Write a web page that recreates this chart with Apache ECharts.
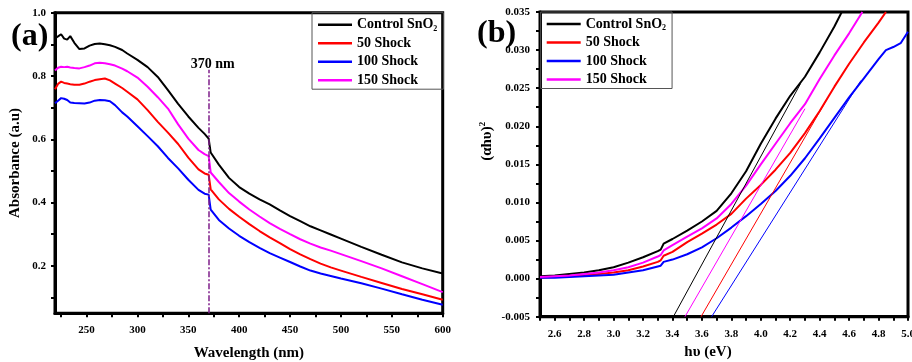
<!DOCTYPE html>
<html>
<head>
<meta charset="utf-8">
<script src="https://cdn.jsdelivr.net/npm/echarts@6/dist/echarts.min.js"></script>
<style>
html, body { margin: 0; padding: 0; background: #fff; }
#main { width: 912px; height: 362px; }
</style>
</head>
<body>
<div id="main"></div>
<script>
// panel (a): absorbance spectra
var wavelength = [219, 222, 225, 228, 231, 234, 238, 243, 248, 253, 258, 263, 268, 273, 278, 285, 290,
    300, 310, 320, 330, 340, 350, 360, 366, 370, 372, 380, 390, 400, 410, 420, 430, 440, 450, 460,
    470, 480, 490, 500, 520, 540, 560, 580, 600];
var absControl = [0.919, 0.925, 0.932, 0.918, 0.915, 0.926, 0.905, 0.885, 0.887, 0.896, 0.901, 0.903, 0.900, 0.897, 0.892, 0.882, 0.871,
    0.851, 0.828, 0.797, 0.755, 0.712, 0.672, 0.636, 0.617, 0.602, 0.558, 0.520, 0.478, 0.449, 0.428, 0.410, 0.394, 0.375, 0.357, 0.341,
    0.325, 0.312, 0.299, 0.286, 0.260, 0.235, 0.211, 0.192, 0.176];
var abs50 = [0.758, 0.775, 0.782, 0.778, 0.776, 0.774, 0.772, 0.772, 0.776, 0.782, 0.787, 0.790, 0.792, 0.786, 0.776, 0.762, 0.750,
    0.726, 0.692, 0.655, 0.621, 0.585, 0.542, 0.505, 0.492, 0.488, 0.442, 0.410, 0.380, 0.355, 0.332, 0.310, 0.290, 0.272, 0.253, 0.236,
    0.221, 0.207, 0.195, 0.185, 0.165, 0.146, 0.127, 0.110, 0.093];
var abs100 = [0.714, 0.722, 0.730, 0.728, 0.724, 0.716, 0.715, 0.714, 0.713, 0.716, 0.722, 0.724, 0.723, 0.720, 0.708, 0.685, 0.672,
    0.641, 0.610, 0.578, 0.541, 0.508, 0.472, 0.440, 0.428, 0.425, 0.378, 0.345, 0.318, 0.295, 0.275, 0.257, 0.240, 0.226, 0.212, 0.198,
    0.185, 0.176, 0.168, 0.160, 0.145, 0.128, 0.110, 0.093, 0.077];
var abs150 = [0.817, 0.826, 0.829, 0.828, 0.829, 0.827, 0.825, 0.824, 0.828, 0.833, 0.840, 0.842, 0.840, 0.837, 0.833, 0.823, 0.815,
    0.795, 0.766, 0.733, 0.697, 0.647, 0.602, 0.566, 0.553, 0.547, 0.495, 0.465, 0.430, 0.403, 0.378, 0.356, 0.335, 0.317, 0.300, 0.284,
    0.270, 0.258, 0.248, 0.237, 0.215, 0.192, 0.167, 0.142, 0.117];
var edgeWavelength = 370;

// panel (b): Tauc plot
var evControl = [2.5, 2.6, 2.7, 2.8, 2.9, 3.0, 3.1, 3.2, 3.3, 3.32, 3.34, 3.4, 3.5, 3.6, 3.7, 3.8, 3.9, 4.0, 4.1, 4.2, 4.3, 4.4, 4.5, 4.55];
var taucControl = [0.0003, 0.0004, 0.0006, 0.0008, 0.0011, 0.0015, 0.0021, 0.0028, 0.0036, 0.0038, 0.0046, 0.0052, 0.0063, 0.0075,
    0.0089, 0.0112, 0.0141, 0.0177, 0.0210, 0.0240, 0.0265, 0.0297, 0.0331, 0.0350];
var ev150 = [2.5, 2.6, 2.7, 2.8, 2.9, 3.0, 3.1, 3.2, 3.3, 3.32, 3.34, 3.4, 3.5, 3.6, 3.7, 3.8, 3.9, 4.0, 4.1, 4.2, 4.3, 4.4, 4.5, 4.6, 4.69];
var tauc150 = [0.0002, 0.0003, 0.0004, 0.0006, 0.0008, 0.0011, 0.0015, 0.0021, 0.0029, 0.0031, 0.0037, 0.0044, 0.0055, 0.0066,
    0.0079, 0.0098, 0.0122, 0.0150, 0.0177, 0.0204, 0.0229, 0.0262, 0.0293, 0.0322, 0.0350];
var ev50 = [2.5, 2.6, 2.7, 2.8, 2.9, 3.0, 3.1, 3.2, 3.3, 3.32, 3.34, 3.4, 3.5, 3.6, 3.7, 3.8, 3.9, 4.0, 4.1, 4.2, 4.3, 4.4, 4.5, 4.6, 4.7, 4.8, 4.85];
var tauc50 = [0.0001, 0.0002, 0.0003, 0.0004, 0.0006, 0.0008, 0.0011, 0.0016, 0.0022, 0.0024, 0.0030, 0.0035, 0.0048, 0.0059,
    0.0071, 0.0085, 0.0105, 0.0123, 0.0143, 0.0165, 0.0191, 0.0220, 0.0252, 0.0282, 0.0310, 0.0336, 0.0350];
var ev100 = [2.5, 2.6, 2.7, 2.8, 2.9, 3.0, 3.1, 3.2, 3.3, 3.32, 3.34, 3.4, 3.5, 3.6, 3.7, 3.8, 3.9, 4.0, 4.1, 4.2, 4.3, 4.4, 4.5, 4.6, 4.7, 4.8, 4.85, 4.9, 4.95, 5.0];
var tauc100 = [0.0001, 0.0001, 0.0002, 0.0003, 0.0004, 0.0005, 0.0008, 0.0011, 0.0016, 0.0017, 0.0022, 0.0025, 0.0032, 0.0041,
    0.0053, 0.0067, 0.0082, 0.0098, 0.0115, 0.0135, 0.0158, 0.0184, 0.0211, 0.0238, 0.0263, 0.0288, 0.0300, 0.0304, 0.0309, 0.0324];
// linear fits (start and end points)
var fitControl = [[3.406, -0.005], [4.27, 0.0256]];
var fit150 = [[3.485, -0.005], [4.30, 0.0223]];
var fit50 = [[3.594, -0.005], [4.448, 0.0235]];
var fit100 = [[3.666, -0.005], [4.68, 0.026]];

// tick labels
var wlTicks = [225, 250, 275, 300, 325, 350, 375, 400, 425, 450, 475, 500, 525, 550, 575, 600];
var wlLabels = [250, 300, 350, 400, 450, 500, 550, 600];
var absTicks = [0.1, 0.2, 0.3, 0.4, 0.5, 0.6, 0.7, 0.8, 0.9, 1.0];
var absLabels = [0.2, 0.4, 0.6, 0.8, 1.0];
var evTicks = [2.5, 2.6, 2.7, 2.8, 2.9, 3.0, 3.1, 3.2, 3.3, 3.4, 3.5, 3.6, 3.7, 3.8, 3.9, 4.0, 4.1, 4.2, 4.3, 4.4, 4.5, 4.6, 4.7, 4.8, 4.9, 5.0];
var evLabels = [2.6, 2.8, 3.0, 3.2, 3.4, 3.6, 3.8, 4.0, 4.2, 4.4, 4.6, 4.8, 5.0];
var taucTicks = [-0.005, -0.0025, 0, 0.0025, 0.005, 0.0075, 0.01, 0.0125, 0.015, 0.0175, 0.02, 0.0225, 0.025, 0.0275, 0.03, 0.0325, 0.035];
var taucLabels = [-0.005, 0, 0.005, 0.01, 0.015, 0.02, 0.025, 0.03, 0.035];

var names = ['Control SnO2', '50 Shock', '100 Shock', '150 Shock'];
var colors = ['#000000', '#ff0000', '#0000ff', '#ff00ff'];
var serif = 'Liberation Serif';

function pairs(xs, ys) {
    return xs.map(function (x, i) { return [x, ys[i]]; });
}

function curve(name, color, data, idx) {
    return {
        name: name, type: 'line', xAxisIndex: idx, yAxisIndex: idx,
        data: data, symbol: 'none', showSymbol: false,
        lineStyle: { color: color, width: 2 }, itemStyle: { color: color }
    };
}

function fitLine(color, data) {
    return {
        name: 'fit', type: 'line', xAxisIndex: 1, yAxisIndex: 1,
        data: data, symbol: 'none', showSymbol: false,
        lineStyle: { color: color, width: 1 }, itemStyle: { color: color }
    };
}

function valueAxis(idx, min, max, ticks, labels, fmt, margin) {
    return {
        type: 'value', gridIndex: idx, min: min, max: max,
        axisLine: { show: true, onZero: false, lineStyle: { color: '#000', width: 3 } },
        axisTick: { show: true, inside: false, length: 4, customValues: ticks, lineStyle: { color: '#000', width: 2 } },
        axisLabel: { customValues: labels, formatter: fmt, margin: margin,
            fontFamily: serif, fontWeight: 'bold', fontSize: 11, color: '#000' },
        splitLine: { show: false }
    };
}

var legendText = {
    fontFamily: serif, fontWeight: 'bold', fontSize: 14, color: '#000', lineHeight: 16,
    rich: {
        t: { fontFamily: serif, fontWeight: 'bold', fontSize: 14, color: '#000', lineHeight: 16 },
        s: { fontFamily: serif, fontWeight: 'bold', fontSize: 8, color: '#000', lineHeight: 8, verticalAlign: 'bottom' }
    }
};
function legendFmt(name) {
    return name === 'Control SnO2' ? '{t|Control SnO}{s|2}' : name;
}
function legend(left, top) {
    return {
        data: names, orient: 'vertical', left: left, top: top,
        padding: [4, 6, 1, 6], itemGap: 2.5, itemWidth: 34, itemHeight: 2.5,
        icon: 'rect', borderColor: '#555', borderWidth: 1,
        textStyle: legendText, formatter: legendFmt, selectedMode: false
    };
}

var axisName = { fontFamily: serif, fontWeight: 'bold', fontSize: 15, color: '#000' };

var chart = echarts.init(document.getElementById('main'), null, { renderer: 'canvas' });
chart.setOption({
    animation: false,
    backgroundColor: '#fff',
    grid: [
        { left: 55, top: 12.7, width: 387.7, height: 300.6, show: true, borderColor: '#000', borderWidth: 3,
            containLabel: false, outerBoundsMode: 'none' },
        { left: 540, top: 12, width: 368, height: 304.7, show: true, borderColor: '#000', borderWidth: 3,
            containLabel: false, outerBoundsMode: 'none' }
    ],
    legend: [legend(312, 12.7), legend(540.7, 12)],
    xAxis: [
        Object.assign(valueAxis(0, 219, 600, wlTicks, wlLabels, function (v) { return String(v); }, 11), {
            name: 'Wavelength (nm)', nameLocation: 'middle', nameGap: 32, nameTextStyle: axisName
        }),
        Object.assign(valueAxis(1, 2.5, 5.0, evTicks, evLabels, function (v) { return v.toFixed(1); }, 12), {
            name: 'h\u03c5 (eV)', nameLocation: 'middle', nameGap: 28,
            nameTextStyle: Object.assign({ padding: [0, 32, 0, 0] }, axisName)
        })
    ],
    yAxis: [
        Object.assign(valueAxis(0, 0.05, 1.0, absTicks, absLabels, function (v) { return v.toFixed(1); }, 9), {
            name: 'Absorbance (a.u)', nameLocation: 'middle', nameGap: 32, nameTextStyle: axisName
        }),
        Object.assign(valueAxis(1, -0.005, 0.035, taucTicks, taucLabels, function (v) { return v.toFixed(3); }, 10), {
            name: '{a|(\u03b1h\u03c5)}{p|2}', nameLocation: 'middle', nameGap: 44,
            nameTextStyle: Object.assign({ padding: [0, 0, 0, 46], rich: {
                a: { fontFamily: serif, fontWeight: 'bold', fontSize: 15, color: '#000', lineHeight: 18 },
                p: { fontFamily: serif, fontWeight: 'bold', fontSize: 9, color: '#000', lineHeight: 9, verticalAlign: 'top' }
            } }, axisName)
        })
    ],
    graphic: [
        { type: 'text', left: 11, top: 21, style: { text: '(a)', font: 'bold 32px "Liberation Serif"', fill: '#000' } },
        { type: 'text', left: 477, top: 18, style: { text: '(b)', font: 'bold 32px "Liberation Serif"', fill: '#000' } }
    ],
    series: [
        Object.assign(curve(names[0], colors[0], pairs(wavelength, absControl), 0), {
            markLine: {
                silent: true, symbol: 'none',
                lineStyle: { color: '#7f1f8a', width: 1.5, type: [6, 2, 2, 2] },
                label: { show: true, position: 'end', formatter: '370 nm', distance: 0, offset: [4, 2],
                    fontFamily: serif, fontWeight: 'bold', fontSize: 14, color: '#000' },
                data: [[{ coord: [edgeWavelength, 0.05] }, { coord: [edgeWavelength, 0.82] }]]
            }
        }),
        curve(names[1], colors[1], pairs(wavelength, abs50), 0),
        curve(names[2], colors[2], pairs(wavelength, abs100), 0),
        curve(names[3], colors[3], pairs(wavelength, abs150), 0),
        curve(names[0], colors[0], pairs(evControl, taucControl), 1),
        curve(names[1], colors[1], pairs(ev50, tauc50), 1),
        curve(names[2], colors[2], pairs(ev100, tauc100), 1),
        curve(names[3], colors[3], pairs(ev150, tauc150), 1),
        fitLine(colors[0], fitControl),
        fitLine(colors[1], fit50),
        fitLine(colors[2], fit100),
        fitLine(colors[3], fit150)
    ]
});
</script>
</body>
</html>
